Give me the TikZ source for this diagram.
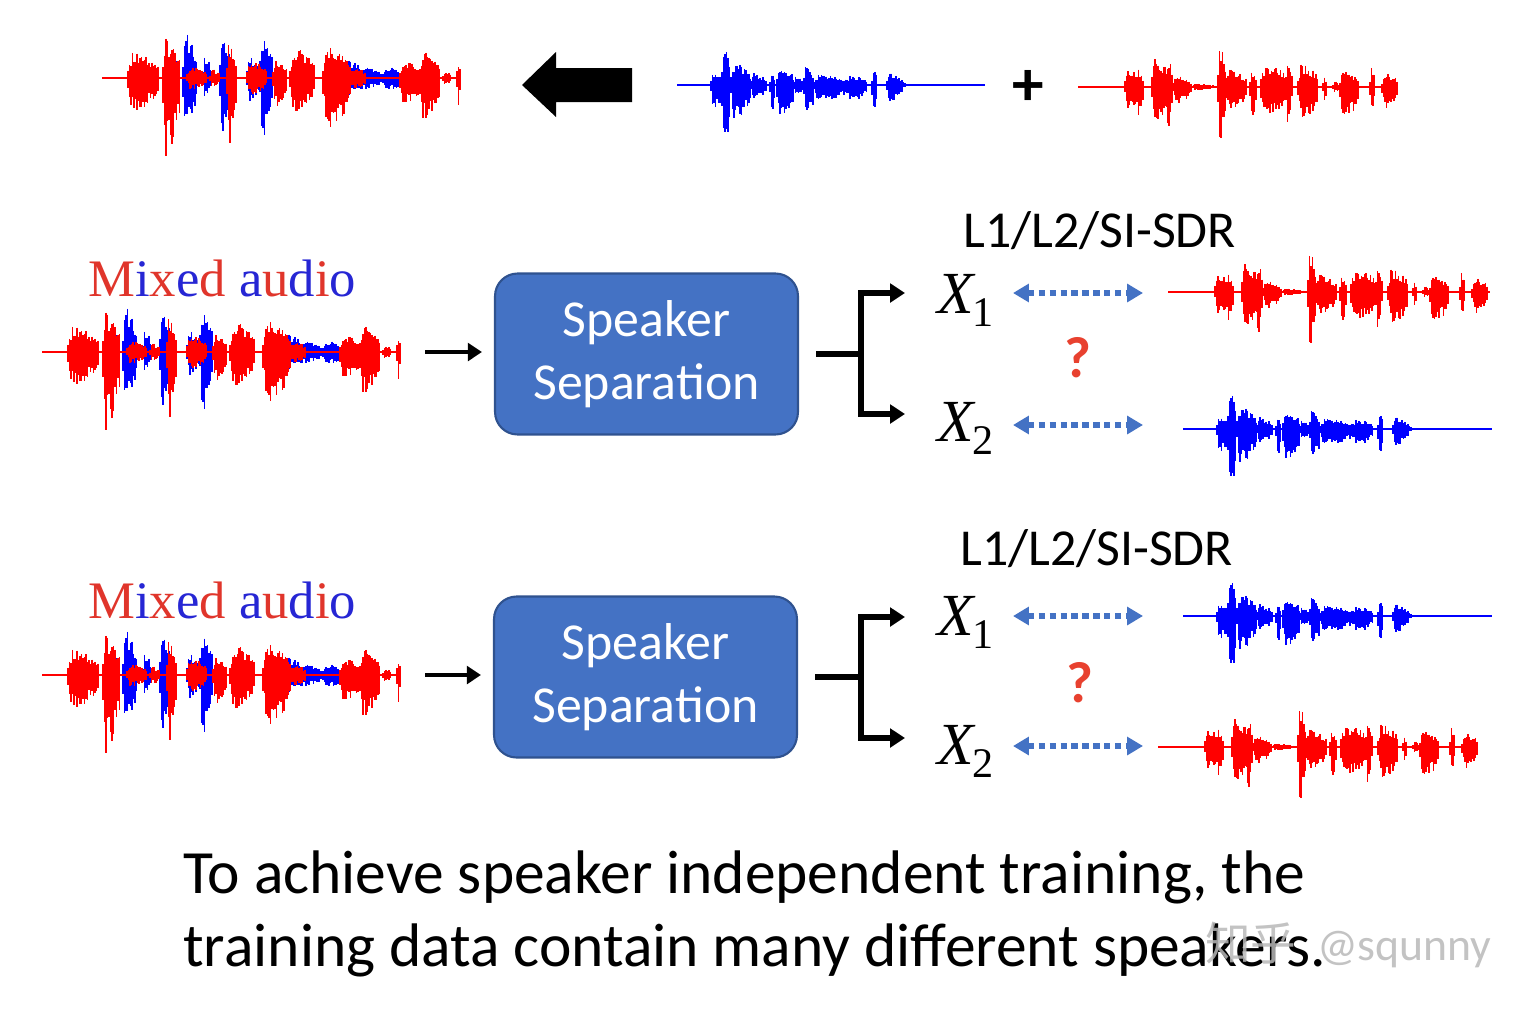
\documentclass[tikz,border=0pt]{standalone}
\usepackage{fontspec}
\setmainfont{Carlito}
\newfontfamily\serifmix{Liberation Serif}
\newfontfamily\cjkfont{Noto Sans CJK SC}
\usetikzlibrary{arrows.meta, calc, positioning}
\definecolor{clrbox}{HTML}{4472C4}
\definecolor{clrboxedge}{HTML}{2F528F}
\definecolor{clrred}{HTML}{FF0000}
\definecolor{clrblue}{HTML}{0000FF}
\definecolor{clrtxtred}{HTML}{E0352B}
\definecolor{clrtxtblue}{HTML}{2626D4}
\definecolor{clrmark}{HTML}{E8412F}

% burst lists: start/length/up/down (pixels from the start of the wave)
\def\spkA{47/14/17/22, 59/6/18/25, 74/18/25/30, 88/6/27/45, 95/18/10/15, 114/22/3/3, 140/8/37/53, 147/22/15/20, 172/6/15/30, 183/26/20/25, 208/6/22/30, 220/20/20/30, 245/4/10/15, 255/6/6/6, 262/18/15/28, 292/5/18/22, 304/16/12/18}
\def\spkB{34/13/11/21, 45/8/37/64, 54/20/20/30, 74/16/10/12, 93/5/10/25, 100/17/15/30, 117/10/8/10, 127/10/17/30, 137/33/10/15, 170/20/8/15, 195/5/15/25, 210/15/10/15, 225/4/3/3}
\def\mixR{26/30/23/29, 61/17/33/66, 85/20/10/10, 108/10/8/8, 125/10/31/57, 145/20/15/15, 171/14/15/25, 188/24/26/30, 221/28/26/44, 248/16/10/10, 298/20/15/25, 318/20/25/35, 341/8/6/6, 355/4/15/25}
\def\mixB{62/14/25/40, 81/14/39/47, 101/8/20/20, 118/12/35/50, 145/14/20/20, 158/12/41/56, 191/10/12/12, 241/24/15/15, 261/18/10/10, 281/18/10/12}
\def\wavescale{1.25}

% colour, x, baseline y, length, bursts, seed
\newcommand{\drawwave}[6]{%
  \pgfmathsetseed{#6}%
  \draw[wave base, #1] (#2,#3) -- ++(#4,0);
  \foreach \bstart/\blen/\bup/\bdown in #5 {
    \foreach \kk in {0,1.5,...,\blen} {
      \pgfmathsetmacro\bt{\kk/\blen}
      \pgfmathsetmacro\benv{\wavescale*min(1,4*\bt+0.35)*(1.08-\bt)^0.35}
      \pgfmathsetmacro\bhu{\bup*\benv*(0.55+0.45*rnd)}
      \pgfmathsetmacro\bhd{\bdown*\benv*(0.55+0.45*rnd)}
      \draw[wave line, #1] (#2+\bstart+\kk,#3-\bhu) -- (#2+\bstart+\kk,#3+\bhd);
    }
  }
}
\newcommand{\mixedtext}{\textcolor{clrtxtred}{M}\textcolor{clrtxtblue}{i}\textcolor{clrtxtred}{x}\textcolor{clrtxtblue}{e}\textcolor{clrtxtred}{d} \textcolor{clrtxtblue}{a}\textcolor{clrtxtred}{u}\textcolor{clrtxtblue}{d}\textcolor{clrtxtred}{i}\textcolor{clrtxtblue}{o}}
\newcommand{\outvar}[1]{{\serifmix\itshape X}\kern-1pt{\serifmix\fontsize{24}{28}\selectfont\raisebox{-0.32em}{#1}}}

\begin{document}
\begin{tikzpicture}[
    x=0.02cm, y=-0.02cm,
    wave base/.style={line width=0.6pt},
    wave line/.style={line width=0.95pt},
    sep box/.style={draw=clrboxedge, line width=1.2pt, fill=clrbox, rounded corners=0.45cm, minimum width=6.06cm, minimum height=3.22cm, text=white, align=center, font=\fontsize{29.5}{36}\selectfont},
    mix label/.style={anchor=base west, inner sep=0pt, font=\serifmix\fontsize{30}{36}\selectfont},
    loss label/.style={anchor=base west, inner sep=0pt, font=\fontsize{29.5}{36}\selectfont},
    out label/.style={anchor=base west, inner sep=0pt, font=\fontsize{34}{40}\selectfont},
    query mark/.style={text=clrmark, inner sep=0pt, font=\bfseries\fontsize{33}{40}\selectfont},
    caption line/.style={anchor=base west, inner sep=0pt, font=\fontsize{35}{40}\selectfont},
    feed arrow/.style={line width=2.8pt, -{Triangle[length=8pt, width=10pt]}},
    fork line/.style={line width=3.8pt},
    fork arrow/.style={line width=3.8pt, -{Triangle[length=8.5pt, width=10.5pt]}},
    match arrow/.style={clrbox, line width=3.6pt, dash pattern=on 3.6pt off 2.6pt, {Triangle[length=9pt, width=10pt]}-{Triangle[length=9pt, width=10pt]}},
]
\useasboundingbox (0,0) rectangle (1530,1014);

% Top row: mixture = speaker B + speaker A
\drawwave{clrblue}{102}{78}{358}{\mixB}{11}
\drawwave{clrred}{102}{78}{358}{\mixR}{12}
\fill (522,85) -- (556,52) -- (556,68) -- (632,68) -- (632,102) -- (556,102) -- (556,117) -- cycle;
\drawwave{clrblue}{677}{85}{308}{\spkB}{21}
\node[font=\bfseries\fontsize{36}{40}\selectfont, inner sep=0pt] (plus) at (1028,88) {+};
\drawwave{clrred}{1078}{87}{320}{\spkA}{31}

% First row
\node[mix label] (mix1) at (88,296) {\mixedtext};
\drawwave{clrblue}{42}{352}{358}{\mixB}{11}
\drawwave{clrred}{42}{352}{358}{\mixR}{12}
\coordinate (in1) at (425,352);
\node[sep box] (sep1) at (646.5,354) {Speaker\\Separation};
\draw[feed arrow, shorten >=0.24cm] (in1) -- (sep1.west |- in1);
\coordinate (fork1) at ($(sep1.east)+(62,0)$);
\coordinate (t11) at (905,293);
\coordinate (t21) at (905,414);
\draw[fork line] ($(sep1.east)+(17,0)$) -- (fork1);
\draw[fork arrow] (fork1) |- (t11);
\draw[fork arrow] (fork1) |- (t21);
\node[out label] (x11) at (937,313) {\outvar{1}};
\node[out label] (x21) at (937,441) {\outvar{2}};
\node[loss label] (loss1) at (963,247) {L1/L2/SI-SDR};
\node[query mark] (q1) at (1078,358) {?};
\coordinate (e11) at (1143,293);
\coordinate (e21) at (1143,425);
\draw[match arrow] (1013,293) -- (e11);
\draw[match arrow] (1013,425) -- (e21);
\drawwave{clrred}{1168}{292}{322}{\spkA}{31}
\drawwave{clrblue}{1183}{429}{309}{\spkB}{21}

% Second row (outputs swapped)
\node[mix label] (mix2) at (88,618) {\mixedtext};
\drawwave{clrblue}{42}{675}{358}{\mixB}{11}
\drawwave{clrred}{42}{675}{358}{\mixR}{12}
\coordinate (in2) at (425,675);
\node[sep box] (sep2) at (645.5,677) {Speaker\\Separation};
\draw[feed arrow, shorten >=0.24cm] (in2) -- (sep2.west |- in2);
\coordinate (fork2) at ($(sep2.east)+(63,0)$);
\coordinate (t12) at (905,617);
\coordinate (t22) at (905,738);
\draw[fork line] ($(sep2.east)+(17,0)$) -- (fork2);
\draw[fork arrow] (fork2) |- (t12);
\draw[fork arrow] (fork2) |- (t22);
\node[out label] (x12) at (937,635) {\outvar{1}};
\node[out label] (x22) at (937,764) {\outvar{2}};
\node[loss label] (loss2) at (960,565) {L1/L2/SI-SDR};
\node[query mark] (q2) at (1080,683) {?};
\coordinate (e12) at (1143,616);
\coordinate (e22) at (1143,746);
\draw[match arrow] (1013,616) -- (e12);
\draw[match arrow] (1013,746) -- (e22);
\drawwave{clrblue}{1183}{616}{309}{\spkB}{21}
\drawwave{clrred}{1158}{747}{320}{\spkA}{31}

% Caption
\node[caption line] (cap1) at (183,893) {To achieve speaker independent training, the};
\node[caption line] (cap2) at (183,966) {training data contain many different speakers.};
\node[anchor=base east, text=black!28, opacity=0.85, inner sep=0pt, font=\fontsize{26}{30}\selectfont] (mark) at (1492,960) {{\cjkfont 知乎}\hspace{0.45em}@squnny};
\end{tikzpicture}
\end{document}
